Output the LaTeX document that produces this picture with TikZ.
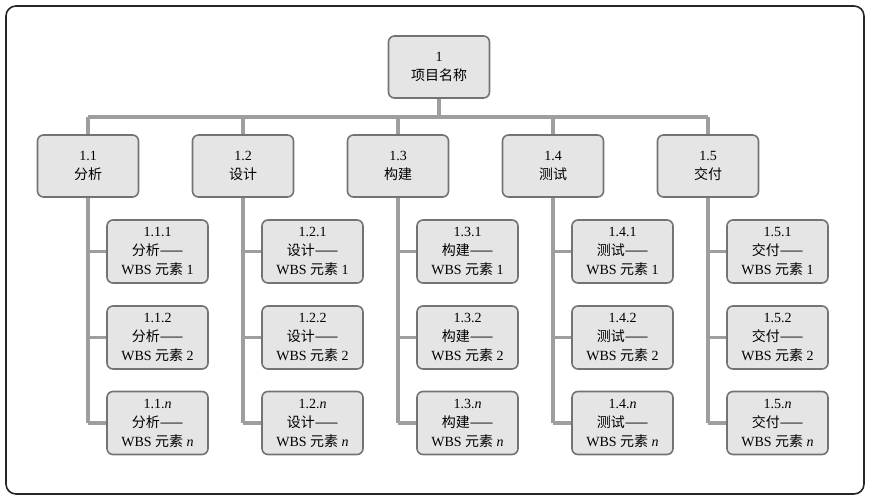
\documentclass[tikz,border=0pt]{standalone}
\usepackage{fontspec}
\setmainfont{Liberation Serif}
\newfontfamily\cjk{Noto Sans CJK SC}
\begin{document}
\begin{tikzpicture}[x=1pt,y=-1pt,
  box/.style={draw=black!55,line width=1.6pt,fill=black!10,rounded corners=6pt,minimum width=101pt,minimum height=62pt,align=center,font=\fontsize{14}{19}\selectfont,inner sep=1pt},
  sbox/.style={box,minimum height=63pt},
  link/.style={draw=black!38,line width=3.5pt}]
\useasboundingbox (0,0) rectangle (870,500);
\draw[line width=1.6pt,rounded corners=10pt,draw=black!85] (6,6) rectangle (864,494);
\coordinate (bar) at (439,117);
\coordinate (bl) at (88,117);
\coordinate (br) at (708,117);
\draw[link] (bl) -- (br);
\draw[link] (439,67) -- (bar);
\node[box] (top) at (439,67) {1\\{\cjk 项目名称}};
\foreach \i/\n [count=\k from 0] in {1/分析,2/设计,3/构建,4/测试,5/交付}{
  \pgfmathsetmacro{\px}{88+155*\k}
  \coordinate (b\i) at (\px,117);
  \coordinate (e\i) at (\px,423);
  \draw[link] (b\i) -- (e\i);
  \node[box] (p\i) at (\px,166) {1.\i\\{\cjk \n}};
  \foreach \j/\lab/\y in {1/1/251.5,2/2/337.5,n/\textit{n}/423}{
    \coordinate (h\i\j) at (\px,\y);
    \coordinate (w\i\j) at (\px+20,\y);
    \draw[link] (h\i\j) -- (w\i\j);
    \node[sbox] (c\i\j) at (\px+69.5,\y) {1.\i.\lab\\{\cjk \n——}\\WBS {\cjk 元素} \lab};
  }
}
\end{tikzpicture}
\end{document}
